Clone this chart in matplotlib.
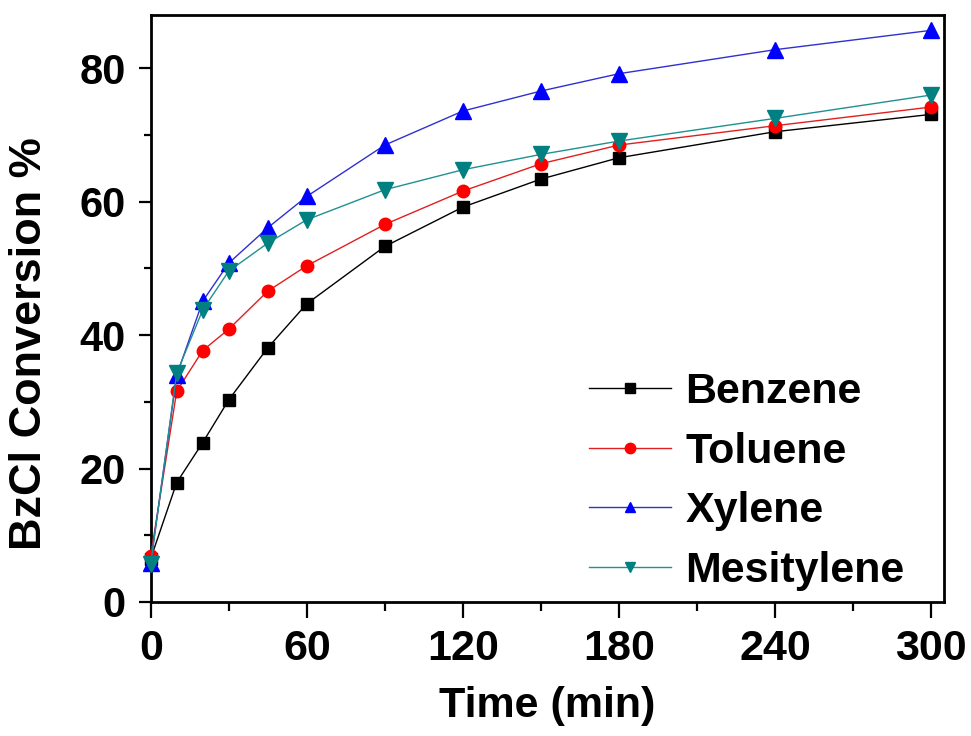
import matplotlib
matplotlib.use("Agg")
import matplotlib.pyplot as plt
from matplotlib.ticker import MultipleLocator

plt.rcParams['font.family'] = ['Liberation Sans', 'DejaVu Sans']
plt.rcParams['font.weight'] = 'bold'

time_min = [0, 10, 20, 30, 45, 60, 90, 120, 150, 180, 240, 300]
benzene = [6.5, 17.9, 23.9, 30.3, 38.1, 44.7, 53.3, 59.2, 63.4, 66.6, 70.5, 73.1]
toluene = [6.9, 31.6, 37.7, 40.9, 46.6, 50.4, 56.6, 61.6, 65.7, 68.5, 71.4, 74.2]
xylene = [5.9, 34.0, 45.1, 50.8, 56.1, 60.8, 68.5, 73.6, 76.6, 79.2, 82.8, 85.7]
mesitylene = [5.7, 34.3, 43.8, 49.6, 53.8, 57.3, 61.8, 64.8, 67.1, 69.1, 72.5, 76.0]

series_names = ["Benzene", "Toluene", "Xylene", "Mesitylene"]
series_values = [benzene, toluene, xylene, mesitylene]
colors = ["#000000", "#FF0000", "#0000FF", "#008080"]
line_colors = ["#000000", "#E02020", "#3030D0", "#209090"]
markers = ["s", "o", "^", "v"]
msizes = [9, 9, 11, 11]

x_ticks = [0, 60, 120, 180, 240, 300]
y_ticks = [0, 20, 40, 60, 80]

fig = plt.figure(figsize=(9.71, 7.36), dpi=100)
ax = fig.add_axes([0.1552, 0.1821, 0.8170, 0.7975])

for name, vals, c, lc, m, ms in zip(series_names, series_values, colors, line_colors, markers, msizes):
    ax.plot(time_min, vals, color=lc, linewidth=1.0, marker=m, markersize=ms,
            markerfacecolor=c, markeredgecolor=c, label=name, clip_on=False, zorder=3)

ax.set_xlim(0, 305)
ax.set_ylim(0, 88)
ax.set_xticks(x_ticks)
ax.set_yticks(y_ticks)
ax.xaxis.set_minor_locator(MultipleLocator(30))
ax.yaxis.set_minor_locator(MultipleLocator(10))

for s in ax.spines.values():
    s.set_linewidth(2.0)

ax.tick_params(axis='x', which='major', direction='out', length=11.5, width=1.6, pad=8, labelsize=31)
ax.tick_params(axis='x', which='minor', direction='out', length=6.5, width=1.6)
ax.tick_params(axis='y', which='major', direction='out', length=9, width=1.6, pad=9, labelsize=30)
ax.tick_params(axis='y', which='minor', direction='out', length=5, width=1.6)
for lab in ax.get_xticklabels() + ax.get_yticklabels():
    lab.set_fontweight('bold')

ax.set_xlabel("Time (min)", fontsize=31, fontweight='bold', labelpad=12)
ax.set_ylabel("BzCl Conversion %", fontsize=32.5, fontweight='bold')
ax.yaxis.set_label_coords(-0.127, 0.44)

leg = ax.legend(loc='upper left', bbox_to_anchor=(0.553, 0.392), frameon=False,
                fontsize=31, handlelength=1.9, handletextpad=0.33,
                labelspacing=0.46, borderpad=0, borderaxespad=0)
for t in leg.get_texts():
    t.set_fontweight('bold')
for h in leg.legend_handles:
    h.set_markersize(7.5)

fig.savefig("out.png", dpi=100)
